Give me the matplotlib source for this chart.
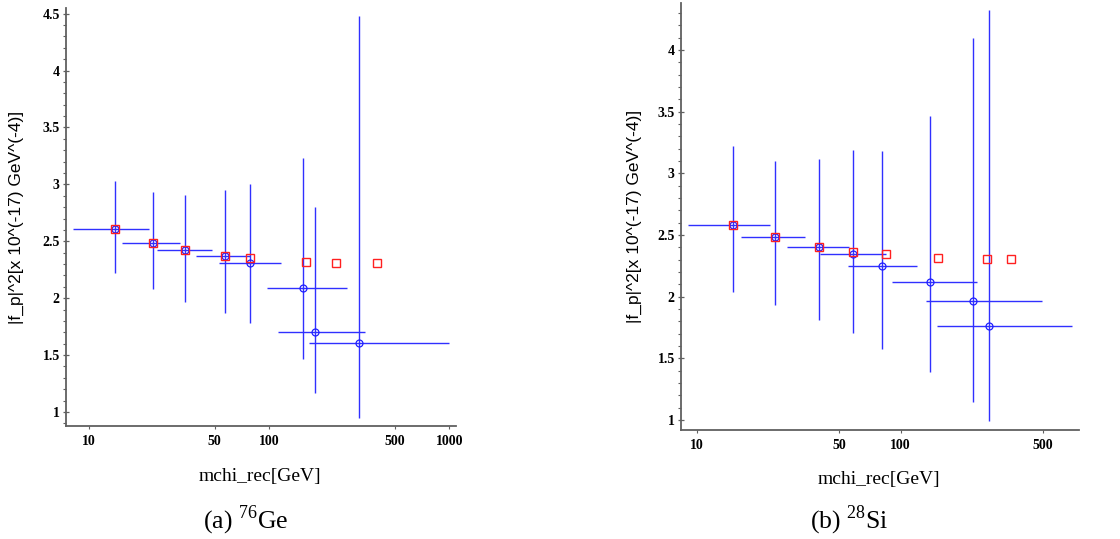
import numpy as np
import matplotlib
matplotlib.use("Agg")
import matplotlib.pyplot as plt
from matplotlib.ticker import FixedLocator, FixedFormatter, MultipleLocator, NullLocator

plt.rcParams['mathtext.fontset'] = 'custom'
plt.rcParams['mathtext.rm'] = 'Liberation Serif'

# (a) 76Ge : reconstructed points with asymmetric bars
ge_x = [14.05, 22.6, 34.3, 56.8, 78.2, 153.8, 180.7, 314.0]
ge_y = [2.61, 2.485, 2.42, 2.368, 2.31, 2.088, 1.70, 1.61]
ge_x_lo = [8.15, 15.3, 24.0, 39.4, 53.0, 97.7, 111.7, 167.5]
ge_x_hi = [21.6, 32.1, 48.3, 78.5, 116.0, 271.0, 340.0, 1000.0]
ge_y_lo = [2.22, 2.079, 1.97, 1.87, 1.78, 1.465, 1.165, 0.947]
ge_y_hi = [3.03, 2.935, 2.906, 2.95, 3.0, 3.233, 2.80, 4.48]
ge_true_x = [14.05, 22.6, 34.3, 56.8, 78.2, 160.0, 234.0, 397.0]
ge_true_y = [2.61, 2.485, 2.42, 2.37, 2.354, 2.321, 2.312, 2.307]

# (b) 28Si
si_x = [15.0, 24.2, 39.8, 58.5, 80.7, 139.4, 227.5, 271.6]
si_y = [2.581, 2.486, 2.403, 2.348, 2.245, 2.122, 1.964, 1.759]
si_x_lo = [9.03, 16.5, 27.7, 40.1, 55.1, 90.4, 133.6, 150.7]
si_x_hi = [22.9, 33.9, 55.5, 84.6, 121.0, 237.0, 499.0, 698.0]
si_y_lo = [2.035, 1.934, 1.813, 1.705, 1.576, 1.389, 1.149, 0.993]
si_y_hi = [3.218, 3.097, 3.113, 3.186, 3.178, 3.462, 4.098, 4.326]
si_true_x = [15.0, 24.2, 39.8, 58.5, 85.3, 152.5, 266.6, 350.0]
si_true_y = [2.581, 2.486, 2.403, 2.365, 2.343, 2.316, 2.308, 2.302]

W, H = 1120, 539
fig = plt.figure(figsize=(W / 100, H / 100), dpi=100)

panels = [
    dict(rect=[66 / W, 1 - 426 / H, 390 / W, 418 / H], xlim=(7.48, 1089), ylim=(0.877, 4.55),
         yticks=[1, 1.5, 2, 2.5, 3, 3.5, 4, 4.5], xticks=[10, 50, 100, 500, 1000],
         x=ge_x, y=ge_y, xlo=ge_x_lo, xhi=ge_x_hi, ylo=ge_y_lo, yhi=ge_y_hi,
         tx=ge_true_x, ty=ge_true_y, ylab=-0.126, xlab=-0.122,
         caption=r"(a) $^{76}$Ge", cx=246),
    dict(rect=[681 / W, 1 - 430 / H, 398 / W, 427 / H], xlim=(8.32, 755), ylim=(0.919, 4.38),
         yticks=[1, 1.5, 2, 2.5, 3, 3.5, 4], xticks=[10, 50, 100, 500],
         x=si_x, y=si_y, xlo=si_x_lo, xhi=si_x_hi, ylo=si_y_lo, yhi=si_y_hi,
         tx=si_true_x, ty=si_true_y, ylab=-0.118, xlab=-0.117,
         caption=r"(b) $^{28}$Si", cx=849),
]

for p in panels:
    ax = fig.add_axes(p['rect'])
    x = np.array(p['x']); y = np.array(p['y'])
    xerr = [x - np.array(p['xlo']), np.array(p['xhi']) - x]
    yerr = [y - np.array(p['ylo']), np.array(p['yhi']) - y]
    ax.errorbar(x, y, xerr=xerr, yerr=yerr, fmt='o', color='#2020ff', ecolor='#3030ff',
                elinewidth=1.0, capsize=0, mfc='none', mec='#2020ff', ms=5, mew=0.9, zorder=2)
    ax.plot(p['tx'], p['ty'], 's', mfc='none', mec='#ff2020', ms=5.5, mew=1.0, zorder=3)

    ax.set_xscale('log')
    ax.set_xlim(*p['xlim'])
    ax.set_ylim(*p['ylim'])
    ax.xaxis.set_major_locator(FixedLocator(p['xticks']))
    ax.xaxis.set_major_formatter(FixedFormatter([str(t) for t in p['xticks']]))
    ax.xaxis.set_minor_locator(NullLocator())
    ax.yaxis.set_major_locator(FixedLocator(p['yticks']))
    ax.yaxis.set_major_formatter(FixedFormatter([f"{t:g}" for t in p['yticks']]))
    ax.yaxis.set_minor_locator(MultipleLocator(0.1))

    for s in ['top', 'right']:
        ax.spines[s].set_visible(False)
    for s in ['left', 'bottom']:
        ax.spines[s].set_color('#606060')
        ax.spines[s].set_linewidth(1.3)
    ax.tick_params(axis='y', which='major', direction='inout', length=5, width=0.9, color='#606060', pad=2)
    ax.tick_params(axis='y', which='minor', direction='out', length=2.5, width=0.8, color='#606060')
    ax.tick_params(axis='x', which='major', direction='out', length=2.5, width=0.8, color='#606060', pad=4)
    for lab in ax.get_xticklabels() + ax.get_yticklabels():
        lab.set_fontfamily('Liberation Serif')
        lab.set_fontweight('bold')
        lab.set_fontsize(10)

    ax.set_ylabel("|f_p|^2[x 10^(-17) GeV^(-4)]", fontfamily='Liberation Sans', fontsize=12.5, va='center')
    ax.yaxis.set_label_coords(p['ylab'], 0.5)
    ax.set_xlabel("mchi_rec[GeV]", fontfamily='Liberation Serif', fontsize=14, va='center')
    ax.xaxis.set_label_coords(0.497, p['xlab'])

    fig.text(p['cx'] / W, 1 - 520 / H, p['caption'], ha='center', va='center',
             fontfamily='Liberation Serif', fontsize=18.5)

fig.savefig('out.png', dpi=100)
